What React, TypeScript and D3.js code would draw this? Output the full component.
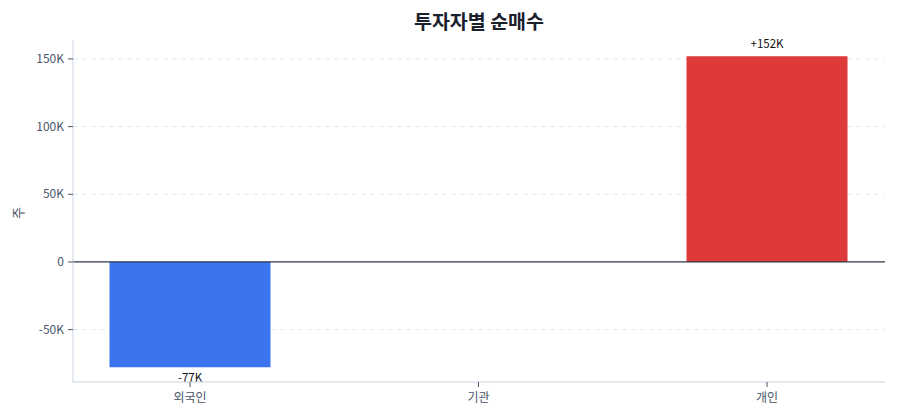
import React from "react";
import * as d3 from "d3";

const categories = ["외국인", "기관", "개인"];
const values = [-77800, 0, 152000];
const valueLabels = ["-77K", "", "+152K"];
const yTicks = [-50000, 0, 50000, 100000, 150000];
const yTickLabels = ["-50K", "0", "50K", "100K", "150K"];
const title = "투자자별 순매수";
const yLabel = "주";

const W = 900;
const H = 420;
const M = { left: 73, right: 15, top: 40, bottom: 38 };
const FONT = "'Noto Sans CJK KR', 'Noto Sans', sans-serif";

export default function App() {
  const x = d3.scalePoint<string>().domain(categories).range([190, 767]);
  const barW = 161;
  const y = d3.scaleLinear().domain([-88700, 164000]).range([H - M.bottom, M.top]);
  const x0 = M.left;
  const x1 = W - M.right;
  const colorFor = (v: number) => (v < 0 ? "#3b74ee" : "#df3a3a");

  return (
    <div style={{ position: "fixed", left: 0, top: 0, width: W, height: H, background: "#fff" }}>
      <svg width={W} height={H} style={{ display: "block", fontFamily: FONT }}>
        <text x={479} y={29} textAnchor="middle" fontSize={19.5} fontWeight={700} fill="#1a202c">
          {title}
        </text>
        {yTicks.map((t, i) =>
          t === 0 ? null : (
            <line key={"g" + i} x1={x0} x2={x1} y1={y(t)} y2={y(t)} stroke="#e2e8f0" strokeDasharray="5,4" strokeWidth={1} />
          )
        )}
        {categories.map((c, i) => {
          const v = values[i];
          const top = Math.min(y(v), y(0));
          const h = Math.abs(y(v) - y(0));
          return (
            <rect key={c} x={(x(c) as number) - barW / 2} y={top} width={barW} height={h} fill={colorFor(v)} />
          );
        })}
        <line x1={x0} x2={x1} y1={y(0)} y2={y(0)} stroke="#2d3748" strokeWidth={1.3} />
        {categories.map((c, i) => {
          const v = values[i];
          if (!valueLabels[i]) return null;
          const ly = v >= 0 ? y(v) - 8 : y(v) + 15;
          return (
            <text key={"l" + c} x={x(c) as number} y={ly} textAnchor="middle" fontSize={11.5} fill="#111">
              {valueLabels[i]}
            </text>
          );
        })}
        <line x1={x0} x2={x0} y1={M.top} y2={H - M.bottom} stroke="#cbd5e0" strokeWidth={1} />
        <line x1={x0} x2={x1} y1={H - M.bottom} y2={H - M.bottom} stroke="#cbd5e0" strokeWidth={1} />
        {yTicks.map((t, i) => (
          <g key={"t" + i}>
            <line x1={x0 - 5} x2={x0} y1={y(t)} y2={y(t)} stroke="#4a5568" strokeWidth={1} />
            <text x={x0 - 9} y={y(t)} dy="0.35em" textAnchor="end" fontSize={12} fill="#4a5568">
              {yTickLabels[i]}
            </text>
          </g>
        ))}
        {categories.map((c) => (
          <g key={"x" + c}>
            <line x1={x(c) as number} x2={x(c) as number} y1={H - M.bottom} y2={H - M.bottom + 5} stroke="#4a5568" strokeWidth={1} />
            <text x={x(c) as number} y={H - M.bottom + 20} textAnchor="middle" fontSize={12} fill="#4a5568">
              {c}
            </text>
          </g>
        ))}
        <text
          transform={`translate(23, ${(M.top + H - M.bottom) / 2 + 2}) rotate(-90)`}
          textAnchor="middle"
          fontSize={13}
          fill="#4a5568"
        >
          {yLabel}
        </text>
      </svg>
    </div>
  );
}
